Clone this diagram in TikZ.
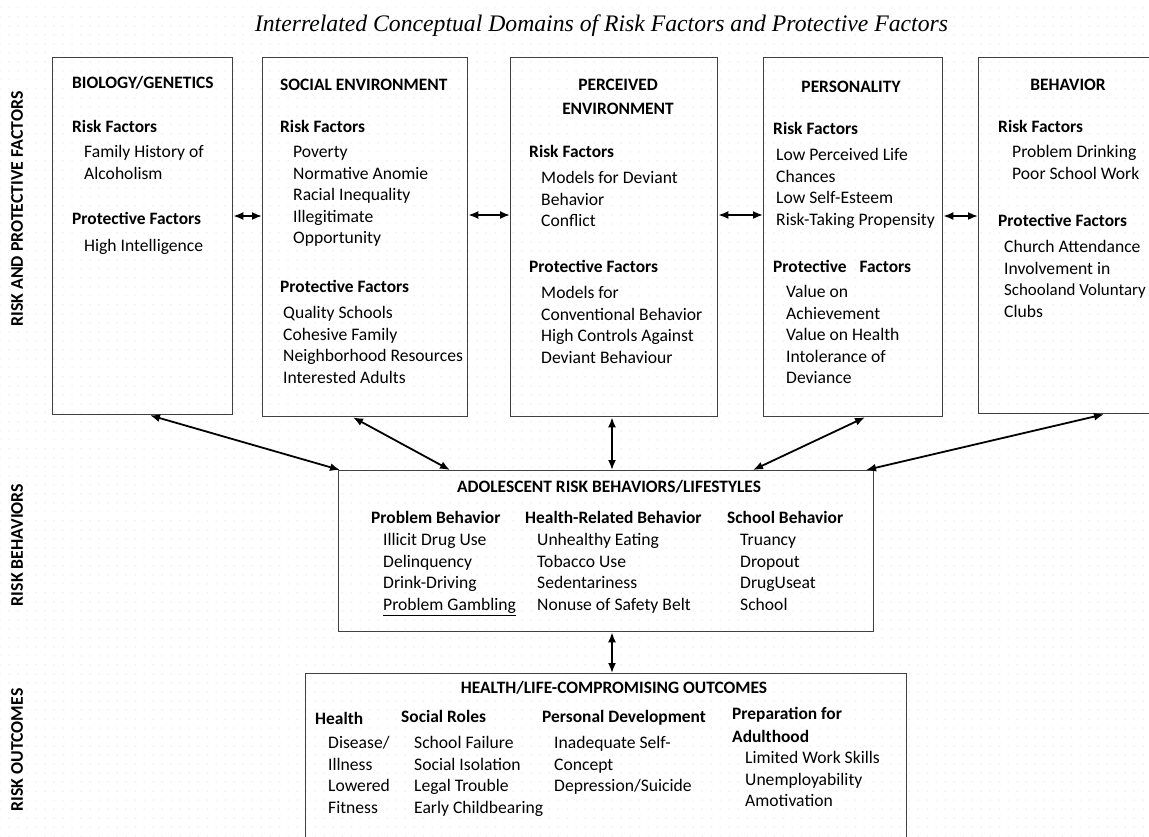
\documentclass[tikz,border=0pt]{standalone}
\usepackage{fontspec}
\usepackage{graphicx}
\setmainfont{Carlito}
\newfontfamily\titlefont{Liberation Serif}
\usetikzlibrary{arrows.meta,patterns.meta,calc}
\newcommand{\itemlines}[4]{%
  \foreach \t [count=\i] in {#4} {\node[itm] (#1\i) at (#2, {#3+(\i-1)*21.6}) {\t};}}
\tikzset{
  box/.style={draw=black!75, line width=1.3pt, inner sep=0pt, anchor=north west},
  arr/.style={line width=1.8pt, {Latex[length=10pt,width=8pt]}-{Latex[length=10pt,width=8pt]}},
  hd/.style={font=\bfseries\fontsize{17.4}{20}\selectfont, inner sep=0pt, text height=13pt, text depth=2pt},
  hdl/.style={hd, anchor=west},
  itm/.style={font=\fontsize{17.6}{20}\selectfont, anchor=west, inner sep=0pt, text height=13pt, text depth=2pt},
  side/.style={font=\bfseries\fontsize{17.8}{20}\selectfont, rotate=90, inner sep=0pt},
}
\begin{document}
\begin{tikzpicture}[x=1pt,y=-1pt]
\path[use as bounding box, clip] (0,0) rectangle (1149,836);
\fill[white] (0,0) rectangle (1149,836);
\fill[pattern={Dots[distance=9pt,radius=0.5pt]}, pattern color=black!20] (0,0) rectangle (1149,836);

% title
\node[inner sep=0pt] (title) at (601.5,26) {\resizebox{693pt}{!}{\titlefont\itshape\fontsize{22}{26}\selectfont Interrelated Conceptual Domains of Risk Factors and Protective Factors}};

% side labels
\node[side] (lab1) at (17,209) {RISK AND PROTECTIVE FACTORS};
\node[side] (lab2) at (17,545) {RISK BEHAVIORS};
\node[side] (lab3) at (17,750) {RISK OUTCOMES};

% boxes
\node[box, minimum width=180pt, minimum height=357pt] (bio) at (52,57) {};
\node[box, minimum width=205pt, minimum height=359pt] (soc) at (262,57) {};
\node[box, minimum width=207pt, minimum height=359pt] (per) at (510,57) {};
\node[box, minimum width=179pt, minimum height=359pt] (pers) at (763,57) {};
\node[box, minimum width=182pt, minimum height=356pt] (beh) at (978,57) {};
\node[box, minimum width=535pt, minimum height=161pt] (mid) at (338,470) {};
\node[box, minimum width=601pt, minimum height=200pt] (out) at (305,673) {};

% Box 1
\node[hdl] (bioT) at (72,83) {BIOLOGY/GENETICS};
\node[hdl] (bioR) at (72,127) {Risk Factors};
\itemlines{bioRi}{84}{152}{Family History of,Alcoholism}
\node[hdl] (bioP) at (72,219) {Protective Factors};
\itemlines{bioPi}{84}{246}{High Intelligence}

% Box 2
\node[hdl] (socT) at (280,85) {SOCIAL ENVIRONMENT};
\node[hdl] (socR) at (280,127) {Risk Factors};
\itemlines{socRi}{293}{152}{Poverty,Normative Anomie,Racial Inequality,Illegitimate,Opportunity}
\node[hdl] (socP) at (280,287) {Protective Factors};
\itemlines{socPi}{283}{313}{Quality Schools,Cohesive Family,Neighborhood Resources,Interested Adults}

% Box 3
\node[hd] (perT1) at (618,85) {PERCEIVED};
\node[hd] (perT2) at (618,109) {ENVIRONMENT};
\node[hdl] (perR) at (529,152) {Risk Factors};
\itemlines{perRi}{541}{178}{Models for Deviant,Behavior,Conflict}
\node[hdl] (perP) at (529,267) {Protective Factors};
\itemlines{perPi}{541}{293}{Models for,Conventional Behavior,High Controls Against,Deviant Behaviour}

% Box 4
\node[hd] (persT) at (851,87) {PERSONALITY};
\node[hdl] (persR) at (773,129) {Risk Factors};
\itemlines{persRi}{776}{155}{Low Perceived Life,Chances,Low Self-Esteem,Risk-Taking Propensity}
\node[hdl] (persP) at (773,267) {Protective\hspace{9pt} Factors};
\itemlines{persPi}{786}{292}{Value on,Achievement,Value on Health,Intolerance of,Deviance}

% Box 5
\node[hd] (behT) at (1068,85) {BEHAVIOR};
\node[hdl] (behR) at (998,127) {Risk Factors};
\itemlines{behRi}{1012}{152}{Problem Drinking,Poor School Work}
\node[hdl] (behP) at (998,221) {Protective Factors};
\node[itm] (behPi1) at (1004,247) {Church Attendance};
\node[itm] (behPi2) at (1004,268.6) {Involvement in};
\node[itm, font=\fontsize{16.9}{20}\selectfont] (behPi3) at (1004,290.2) {Schooland Voluntary};
\node[itm] (behPi4) at (1004,311.8) {Clubs};

% Middle box
\node[hd] (midT) at (609,487) {ADOLESCENT RISK BEHAVIORS/LIFESTYLES};
\node[hdl] (midA) at (371,518) {Problem Behavior};
\itemlines{midAi}{383}{540}{Illicit Drug Use,Delinquency,Drink-Driving,\underline{Problem Gambling}}
\node[hdl] (midB) at (525,518) {Health-Related Behavior};
\itemlines{midBi}{537}{540}{Unhealthy Eating,Tobacco Use,Sedentariness,Nonuse of Safety Belt}
\node[hdl] (midC) at (727,518) {School Behavior};
\itemlines{midCi}{740}{540}{Truancy,Dropout,DrugUseat,School}

% Bottom box
\node[hd] (outT) at (614,688) {HEALTH/LIFE-COMPROMISING OUTCOMES};
\node[hdl] (outA) at (315,719) {Health};
\itemlines{outAi}{328}{743}{Disease/,Illness,Lowered,Fitness}
\node[hdl] (outB) at (401,717) {Social Roles};
\itemlines{outBi}{414}{743}{School Failure,Social Isolation,Legal Trouble,Early Childbearing}
\node[hdl] (outC) at (542,717) {Personal Development};
\itemlines{outCi}{554}{743}{Inadequate Self-,Concept,Depression/Suicide}
\node[hdl] (outD1) at (732,714) {Preparation for};
\node[hdl] (outD2) at (732,737) {Adulthood};
\itemlines{outDi}{745}{758}{Limited Work Skills,Unemployability,Amotivation}

% horizontal connectors
\coordinate (h1) at (0,216);
\coordinate (h2) at (0,215);
\coordinate (h3) at (0,215);
\coordinate (h4) at (0,216);
\draw[arr] (bio.east |- h1) -- (soc.west |- h1);
\draw[arr] (soc.east |- h2) -- (per.west |- h2);
\draw[arr] (per.east |- h3) -- (pers.west |- h3);
\draw[arr] (pers.east |- h4) -- (beh.west |- h4);

% connectors to middle box
\draw[arr] ($(bio.south west)+(98,0)$) -- ($(mid.north west)+(2,0)$);
\draw[arr] ($(soc.south west)+(91,0)$) -- ($(mid.north west)+(112,0)$);
\draw[arr] ($(per.south west)+(102,0)$) -- ($(mid.north west)+(274,0)$);
\draw[arr] ($(pers.south west)+(102,0)$) -- ($(mid.north west)+(415,0)$);
\draw[arr] ($(beh.south west)+(126,0)$) -- ($(mid.north west)+(528,0)$);
\draw[arr] ($(mid.south west)+(274,0)$) -- ($(out.north west)+(307,0)$);
\end{tikzpicture}
\end{document}
